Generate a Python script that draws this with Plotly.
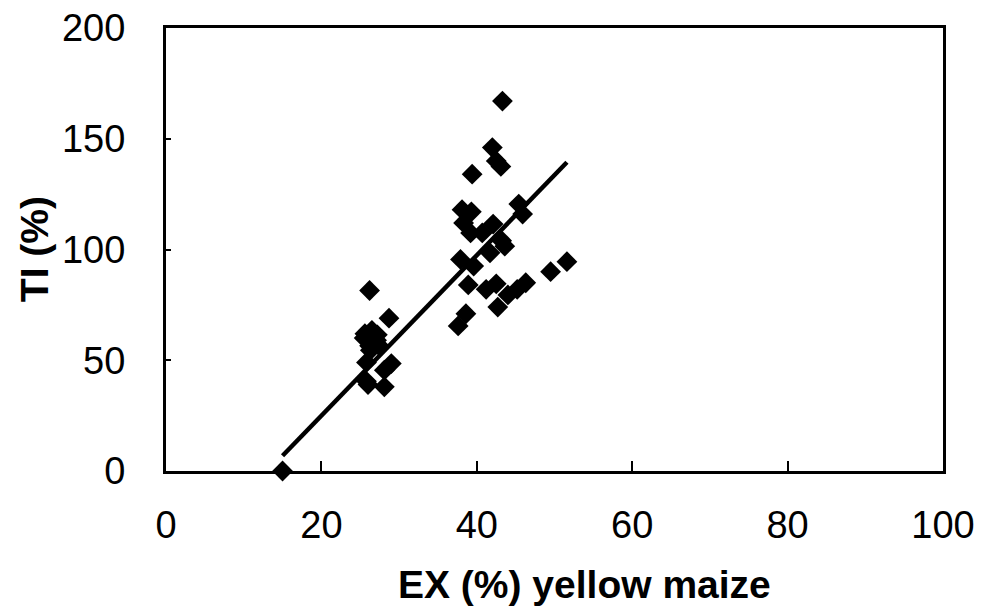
import plotly.graph_objects as go

# Extraction rate of yellow maize vs. TI
ex_pct = [15.0,
          26.2, 28.7, 25.6, 26.5, 27.2, 25.5, 27.1, 26.2, 27.3, 26.3, 25.8, 29.0, 28.1, 25.8, 26.0, 28.1,
          43.3, 42.0, 42.5, 43.1, 39.4, 38.1, 39.3, 38.3, 39.2, 40.7, 42.1, 45.4, 45.9, 43.2, 43.6,
          41.7, 37.9, 39.6, 38.9, 41.2, 42.5, 44.0, 45.2, 46.3, 42.7, 38.6, 37.6, 49.5, 51.6]
ti_pct = [0.0,
          81.5, 69.0, 62.0, 63.5, 61.5, 60.0, 59.0, 56.5, 57.0, 54.5, 49.0, 48.5, 45.5, 40.5, 39.0, 38.0,
          167.0, 146.0, 140.0, 137.5, 134.0, 118.0, 117.0, 112.0, 107.5, 107.5, 111.5, 120.5, 116.0, 104.0, 101.5,
          98.5, 95.5, 92.5, 84.0, 82.0, 84.5, 79.5, 82.0, 85.0, 74.0, 71.0, 65.5, 90.0, 94.5]

# Linear trend line: TI = slope * EX + intercept, over the observed EX span
slope = 3.62
intercept = -47.4
fit_x = [15.0, 51.6]
fit_y = [slope * v + intercept for v in fit_x]

x_ticks = [0, 20, 40, 60, 80, 100]
y_ticks = [0, 50, 100, 150, 200]

fig = go.Figure()
fig.add_trace(go.Scatter(x=fit_x, y=fit_y, mode="lines",
                         line=dict(color="black", width=4.5), showlegend=False))
fig.add_trace(go.Scatter(x=ex_pct, y=ti_pct, mode="markers",
                         marker=dict(symbol="diamond", size=16, color="black"),
                         showlegend=False, cliponaxis=False))

font_family = "Liberation Sans, Arial, sans-serif"
axis_common = dict(ticks="inside", tickwidth=2, tickcolor="black", showline=True,
                   linecolor="black", linewidth=3, mirror=True, showgrid=False,
                   zeroline=False, tickfont=dict(size=38), automargin=False)
fig.update_layout(
    width=981, height=614,
    margin=dict(l=166, r=38, t=28, b=143),
    paper_bgcolor="white", plot_bgcolor="white",
    font=dict(family=font_family, color="black"),
    xaxis=dict(range=[0, 100], tickvals=x_ticks, ticklen=10, ticklabelstandoff=18, **axis_common),
    yaxis=dict(range=[0, 200], tickvals=y_ticks, ticklen=5, ticklabelstandoff=30, **axis_common),
    annotations=[
        dict(text="<b>EX (%) yellow maize</b>", xref="paper", yref="paper",
             x=0.538, y=-0.257, xanchor="center", yanchor="middle",
             showarrow=False, font=dict(size=39)),
        dict(text="<b>TI (%)</b>", xref="paper", yref="paper", textangle=-90,
             x=-0.169, y=0.5, xanchor="center", yanchor="middle",
             showarrow=False, font=dict(size=39)),
    ],
)

fig.write_html("out.html")
